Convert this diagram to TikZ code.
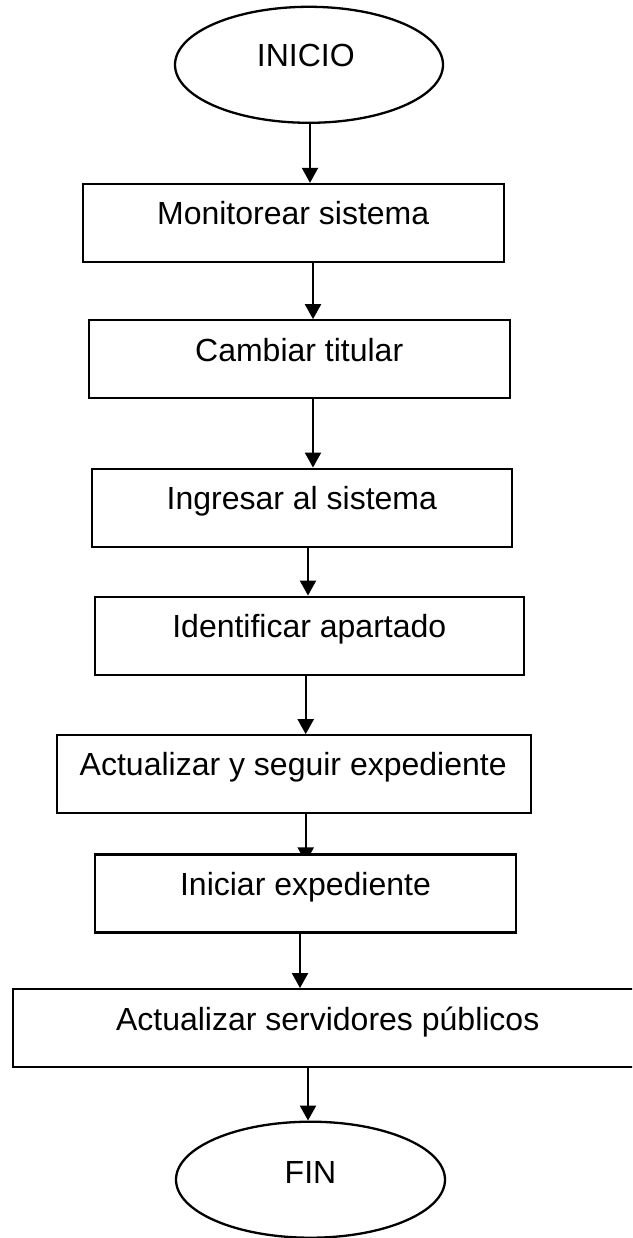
\documentclass[tikz,border=0pt]{standalone}
\usepackage{fontspec}
\setmainfont{Liberation Sans}
\usetikzlibrary{shapes.geometric,arrows.meta,backgrounds}
\begin{document}
\begin{tikzpicture}[x=1pt,y=-1pt,
  box/.style={draw,line width=2.3pt,fill=white,minimum width=#1,minimum height=78pt,inner sep=0pt},
  oval/.style={draw,ellipse,line width=2.3pt,fill=white,minimum width=268pt,minimum height=116pt,inner sep=0pt},
  lbl/.style={anchor=base,inner sep=0pt,font=\fontsize{32}{38}\selectfont},
  arr/.style={line width=2.2pt,-{Triangle[width=16pt,length=15pt]}}]
\path[use as bounding box] (0,0) rectangle (632,1238);
\clip (0,0) rectangle (632,1238);

\node[oval] (ini) at (309,64.8) {};
\node[box=421pt] (b1) at (293.2,223) {};
\node[box=421pt] (b2) at (299.5,359.3) {};
\node[box=420pt] (b3) at (301.8,507.7) {};
\node[box=429pt] (b4) at (309.3,635.7) {};
\node[box=474pt] (b5) at (293.8,774.3) {};
\node[box=421pt] (b6) at (305.5,893.5) {};
\node[box=630pt] (b7) at (327.7,1028.2) {};
\node[oval,minimum width=269pt] (fin) at (310.5,1179.7) {};

\node[lbl] (tini) at (305.8,66.7) {INICIO};
\node[lbl] (t1) at (293.2,225) {Monitorear sistema};
\node[lbl] (t2) at (299.2,361) {Cambiar titular};
\node[lbl] (t3) at (301.8,509.3) {Ingresar al sistema};
\node[lbl] (t4) at (309.3,637.3) {Identificar apartado};
\node[lbl] (t5) at (293.2,775.7) {Actualizar y seguir expediente};
\node[lbl] (t6) at (305.5,895.7) {Iniciar expediente};
\node[lbl] (t7) at (327.7,1030.7) {Actualizar servidores públicos};
\node[lbl] (tfin) at (310.5,1183.3) {FIN};

\begin{scope}[on background layer]
\fill[white] (0,0) rectangle (632,1238);
\draw[arr] ([xshift=1pt]ini.south) -- ([xshift=16.8pt]b1.north);
\draw[arr] ([xshift=19.8pt]b1.south) -- ([xshift=13.5pt]b2.north);
\draw[arr] ([xshift=13.5pt]b2.south) -- ([xshift=11.2pt]b3.north);
\draw[arr] ([xshift=6.2pt]b3.south) -- ([xshift=-1.3pt]b4.north);
\draw[arr] ([xshift=-3.6pt]b4.south) -- ([xshift=11.9pt]b5.north);
\draw[arr,shorten >=-9pt] ([xshift=11.9pt]b5.south) -- ([xshift=0.2pt]b6.north);
\draw[arr] ([xshift=-5.5pt]b6.south) -- ([xshift=-27.7pt]b7.north);
\draw[arr] ([xshift=-19.7pt]b7.south) -- ([xshift=-2.5pt]fin.north);
\end{scope}
\end{tikzpicture}
\end{document}
